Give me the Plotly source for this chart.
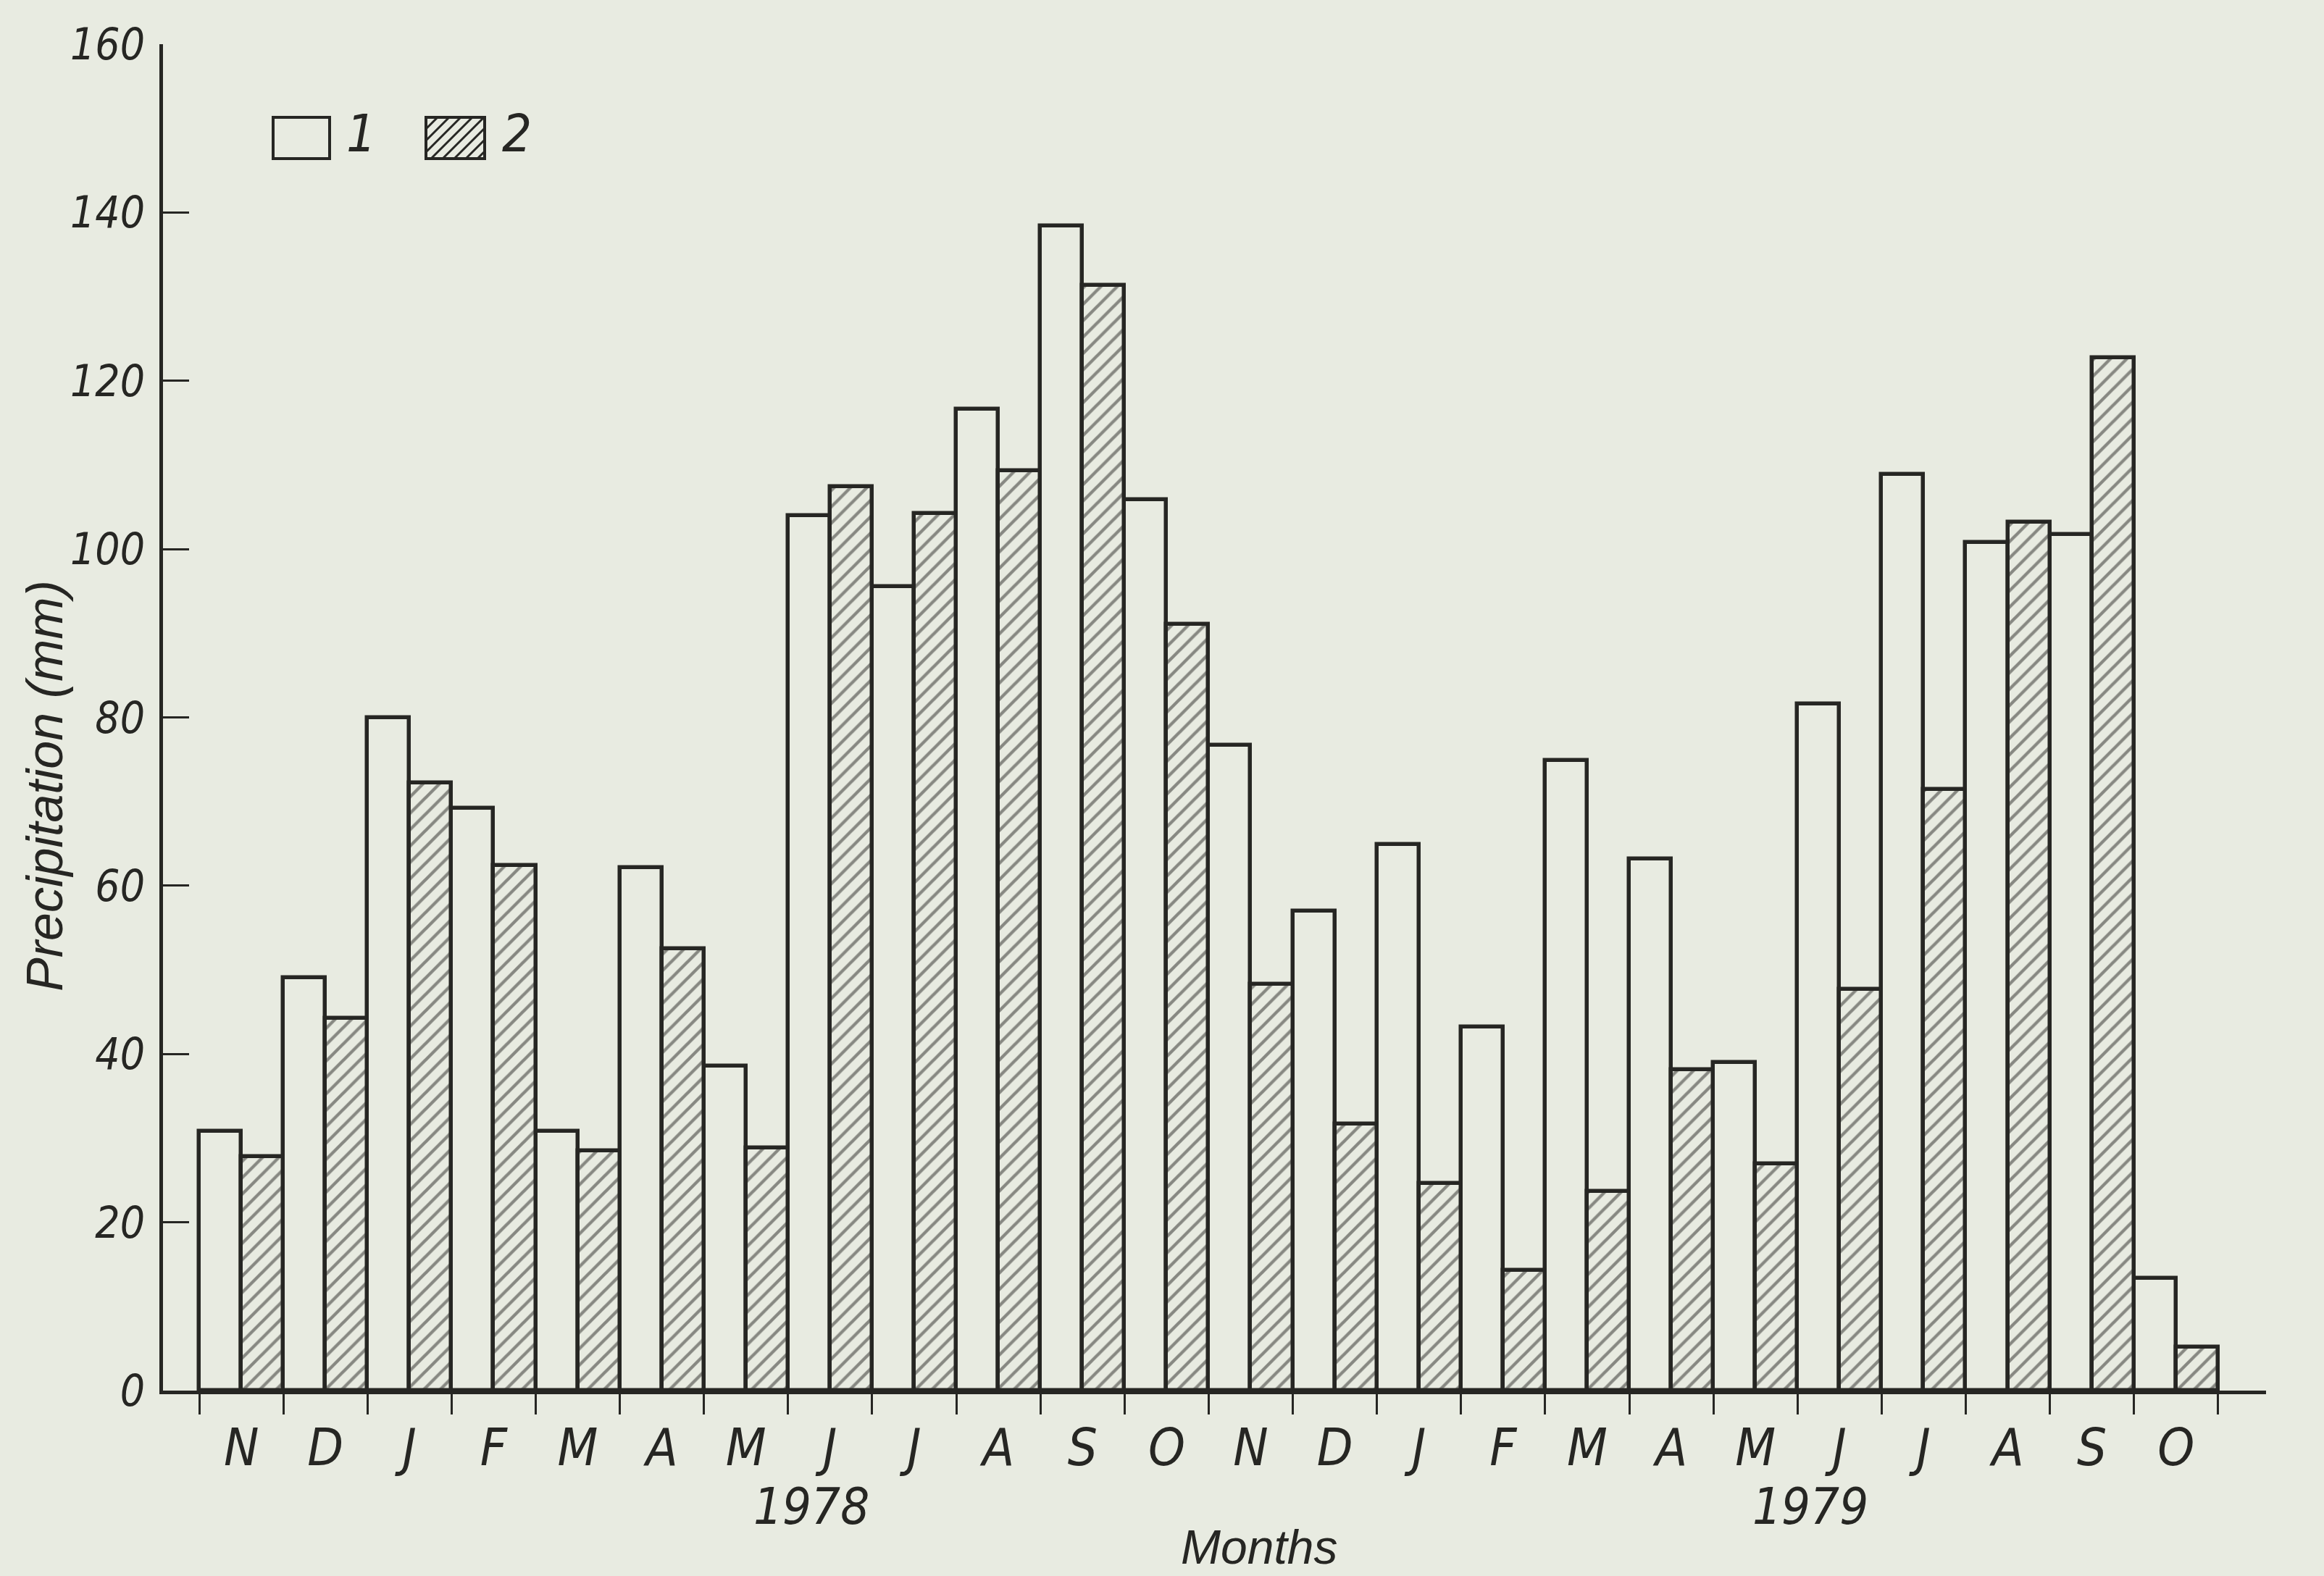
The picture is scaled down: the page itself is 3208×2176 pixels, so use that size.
import plotly.graph_objects as go

# Monthly precipitation, November 1977 - October 1979
months = ["N", "D", "J", "F", "M", "A", "M", "J", "J", "A", "S", "O",
          "N", "D", "J", "F", "M", "A", "M", "J", "J", "A", "S", "O"]
series_1 = [30.8, 49.1, 80.0, 69.2, 30.8, 62.1, 38.6, 104.0, 95.5, 116.6, 138.4, 105.9,
            76.7, 57.0, 64.9, 43.2, 74.9, 63.2, 39.0, 81.6, 108.9, 100.8, 101.7, 13.3]
series_2 = [27.8, 44.2, 72.2, 62.4, 28.5, 52.5, 28.8, 107.4, 104.2, 109.3, 131.3, 91.1,
            48.3, 31.7, 24.6, 14.3, 23.7, 38.1, 26.9, 47.7, 71.4, 103.2, 122.7, 5.2]
years = ["1978", "1979"]
year_pos = [6.78, 18.65]
y_ticks = [0, 20, 40, 60, 80, 100, 120, 140, 160]
legend_names = ["1", "2"]

PAPER = "#e8ebe1"
INK = "#262623"
NARROW = "Liberation Sans Narrow, DejaVu Sans Condensed, Liberation Sans, sans-serif"
SANS = "Liberation Sans, Arial, sans-serif"

W, H = 3208, 2176
L, R, T, B = 225, 80, 61, 256
PW, PH = W - L - R, H - T - B

idx = list(range(len(months)))
bounds = [i - 0.5 for i in range(len(months) + 1)]
x_range = [-0.931, 24.07]


def px(x):
    return (x - L) / PW


def py(y):
    return (H - B - y) / PH


fig = go.Figure()
fig.add_bar(x=idx, y=series_1, name=legend_names[0],
            marker=dict(color=PAPER, line=dict(color=INK, width=5.5)))
fig.add_bar(x=idx, y=series_2, name=legend_names[1],
            marker=dict(color=PAPER, line=dict(color=INK, width=5.5),
                        pattern=dict(shape="/", size=16, solidity=0.27,
                                     fgcolor=INK, bgcolor=PAPER)))
# carrier for the month-boundary tick axis
fig.add_scatter(x=bounds, y=[0] * len(bounds), xaxis="x2", mode="markers",
                marker=dict(opacity=0), hoverinfo="skip", showlegend=False)

annotations = []
for yr, xp in zip(years, year_pos):
    annotations.append(dict(x=xp, xref="x", y=py(2080), yref="paper", text=yr,
                            showarrow=False, xanchor="center", yanchor="middle",
                            font=dict(family=NARROW, size=70, color=INK, style="italic")))
annotations.append(dict(x=12.1, xref="x", y=py(2136), yref="paper", text="Months",
                        showarrow=False, xanchor="center", yanchor="middle",
                        font=dict(family=SANS, size=66, color=INK, style="italic")))
annotations.append(dict(x=px(62), xref="paper", y=py(1085), yref="paper",
                        text="Precipitation (mm)", textangle=-90, showarrow=False,
                        xanchor="center", yanchor="middle",
                        font=dict(family=SANS, size=70, color=INK, style="italic")))

# legend key: open box for series 1, hatched box for series 2
shapes = []
boxes = [(377, 162, 455, 219), (588, 162, 669, 219)]
label_x = [498, 713]
for k, (x0, y0, x1, y1) in enumerate(boxes):
    shapes.append(dict(type="rect", xref="paper", yref="paper",
                       x0=px(x0), x1=px(x1), y0=py(y1), y1=py(y0),
                       line=dict(color=INK, width=4), fillcolor=PAPER))
    annotations.append(dict(x=px(label_x[k]), xref="paper", y=py(184), yref="paper",
                            text=legend_names[k], showarrow=False,
                            xanchor="center", yanchor="middle",
                            font=dict(family=NARROW, size=72, color=INK, style="italic")))
hx0, hy0, hx1, hy1 = boxes[1]
step = 16
c = hx0 + hy0 + step
while c < hx1 + hy1:
    xa = max(hx0, c - hy1)
    xb = min(hx1, c - hy0)
    if xb > xa:
        shapes.append(dict(type="line", xref="paper", yref="paper",
                           x0=px(xa), y0=py(c - xa), x1=px(xb), y1=py(c - xb),
                           line=dict(color=INK, width=3)))
    c += step

fig.update_layout(
    width=W, height=H,
    margin=dict(l=L, r=R, t=T, b=B, pad=0),
    paper_bgcolor=PAPER, plot_bgcolor=PAPER,
    barmode="group", bargap=0, bargroupgap=0,
    showlegend=False,
    annotations=annotations, shapes=shapes,
    xaxis=dict(range=x_range, tickmode="array", tickvals=idx, ticktext=months,
               ticks="", showgrid=False, zeroline=False,
               showline=True, linecolor=INK, linewidth=5,
               tickfont=dict(family=NARROW, size=72, color=INK, style="italic"),
               ticklabelstandoff=12),
    xaxis2=dict(range=x_range, overlaying="x", anchor="y", side="bottom",
                tickmode="array", tickvals=bounds, ticks="outside", ticklen=32,
                tickwidth=3, tickcolor=INK, showticklabels=False,
                showgrid=False, zeroline=False, showline=False),
    yaxis=dict(range=[0, 160], tickmode="array", tickvals=y_ticks,
               ticks="inside", ticklen=36, tickwidth=3, tickcolor=INK,
               showgrid=False, zeroline=False,
               showline=True, linecolor=INK, linewidth=5,
               tickfont=dict(family=NARROW, size=60, color=INK, style="italic"),
               ticklabelstandoff=8),
)

fig.write_html("out.html")
